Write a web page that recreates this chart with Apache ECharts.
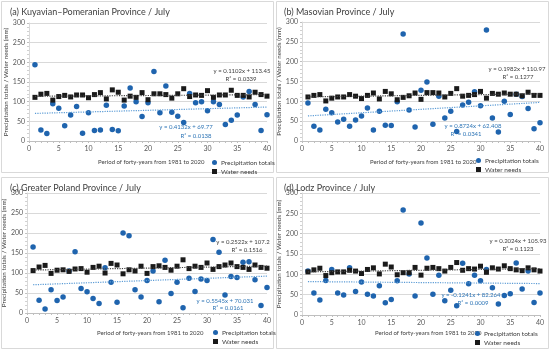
<!DOCTYPE html>
<html><head><meta charset="utf-8">
<script src="https://cdn.jsdelivr.net/npm/echarts@6/dist/echarts.min.js"></script>
<style>html,body{margin:0;padding:0;background:#fff}#c{width:550px;height:350px}</style>
</head><body><div id="c"></div>
<script>
const years = Array.from({length:40},(_,i)=>i+1);
const titles = ["(a) Kuyavian\u2013Pomeranian Province / July","(b) Masovian Province / July","(c) Greater Poland Province / July","(d) Lodz Province / July"];
const precipA = [194,28,19,95,83,39,66,88,20,72,27,28,91,29,26,89,135,100,62,97,177,72,140,73,63,47,121,97,100,77,100,93,42,53,66,112,126,93,27,67];
const waterA  = [111,119,121,104,113,116,112,117,117,110,118,123,107,130,124,104,114,111,123,105,120,120,118,109,120,133,113,117,116,128,111,117,117,129,116,116,112,124,118,114];
const precipB = [96,37,28,80,71,48,55,37,53,63,83,28,75,40,39,99,270,78,35,128,149,42,113,58,75,24,91,98,124,89,280,58,23,100,67,118,112,82,31,46];
const waterB  = [111,115,117,101,108,111,111,117,113,107,115,121,106,125,119,104,110,114,121,105,122,122,121,111,120,132,113,115,117,125,108,120,118,121,118,118,114,123,115,115];
const precipC = [165,32,10,58,31,40,105,153,61,53,36,24,113,77,27,200,193,58,40,81,105,28,132,49,77,13,87,54,85,81,184,152,45,91,89,127,128,83,19,64];
const waterC  = [106,115,119,99,107,108,104,110,111,102,114,117,100,124,120,98,108,105,117,99,116,118,114,107,117,133,111,117,114,125,109,116,120,125,116,114,109,120,114,112];
const precipD = [108,54,37,85,112,54,49,116,58,81,51,47,72,30,38,84,258,101,47,226,140,51,98,35,61,23,127,77,98,84,112,67,27,48,52,128,64,108,31,54];
const waterD  = [106,111,115,97,104,106,106,110,108,102,112,116,101,125,118,99,104,104,117,98,115,117,114,108,117,129,110,114,113,120,105,116,113,121,114,111,109,116,111,108];
// trend equations as printed on the chart
const waterSlope = [0.1102,0.1982,0.2522,0.2024];
const waterIntercept = [113.45,110.97,107.2,105.93];
const waterR2 = ["0.0339","0.1277","0.1516","0.1123"];
const precipSlope = [0.4132,0.8724,0.5545,-0.1241];
const precipIntercept = [69.77,62.408,70.031,82.264];
const precipR2 = ["0.0138","0.0341","0.0161","0.0009"];
const yTicks = [0,50,100,150,200,250,300];
const xTicks = [0,5,10,15,20,25,30,35,40];

const precip = [precipA,precipB,precipC,precipD];
const water = [waterA,waterB,waterC,waterD];

const FONT = 'Lato';
const grids = [
  {left:29, top:23, width:238, height:118},
  {left:302, top:22, width:238, height:119},
  {left:27, top:193, width:240, height:120},
  {left:302, top:193, width:238, height:122}
];
const titlePos = [[5,3],[279,3],[5,179],[279,179]];
const xNamePos = [[98,159],[370,159],[97,330],[375,330]];
const legendPos = [[212,159],[476,157],[213,329],[475,330]];
const eqW = [[242,71],[517,69],[243,242],[518,241]];
const r2W = [[241,79],[518,77],[247,250],[518,249]];
const eqP = [[186,127],[473,126],[225,301],[471,295]];
const r2P = [[196,136],[466,134],[228,308],[473,303]];
const boxes = [[1,1],[276,1],[1,177],[276,177]];

const fmt = (s,b)=> 'y = ' + s + 'x ' + (b<0?'- ':'+ ') + Math.abs(b);

const option = {
  animation:false,
  textStyle:{fontFamily:FONT},
  grid: grids,
  title: titles.map((t,i)=>({text:t,left:titlePos[i][0],top:titlePos[i][1],textStyle:{fontSize:9,fontWeight:'normal',color:'#404040',fontFamily:FONT}})),
  legend: legendPos.map((p,i)=>({data:[{name:'Precipitation totals',icon:'circle'},{name:'Water needs',icon:'rect'}],orient:'vertical',left:p[0],top:p[1],itemWidth:5,itemHeight:5,itemGap:2,padding:0,selectedMode:false,textStyle:{fontSize:6.5,color:'#404040',fontFamily:FONT,padding:[0,0,0,-1]}})),
  xAxis: grids.map((g,i)=>({type:'value',gridIndex:i,min:0,max:40,interval:5,
    axisLine:{show:true,lineStyle:{color:'#bfbfbf'}},
    axisTick:{show:true,length:2,lineStyle:{color:'#bfbfbf'}},
    minorTick:{show:true,splitNumber:5,length:2,lineStyle:{color:'#bfbfbf'}},
    splitLine:{show:false},
    axisLabel:{fontSize:7,color:'#595959',margin:4,fontFamily:FONT,customValues:xTicks}})),
  yAxis: grids.map((g,i)=>({type:'value',gridIndex:i,min:0,max:300,interval:50,
    name:'Precipitation totals / Water needs (mm)',nameLocation:'middle',nameGap:20,
    nameTextStyle:{fontSize:6.3,color:'#404040',fontFamily:FONT},
    axisLine:{show:true,lineStyle:{color:'#d9d9d9'}},
    axisTick:{show:true,length:2,lineStyle:{color:'#bfbfbf'}},
    minorTick:{show:true,splitNumber:5,length:2,lineStyle:{color:'#d0d0d0'}},
    splitLine:{show:true,lineStyle:{color:'#d9d9d9',width:1}},
    axisLabel:{fontSize:7,color:'#595959',margin:4,fontFamily:FONT}})),
  series: [],
  graphic: []
};

for (let i=0;i<4;i++){
  option.series.push({name:'Precipitation totals',type:'scatter',xAxisIndex:i,yAxisIndex:i,symbol:'circle',symbolSize:5.5,
    itemStyle:{color:'#1f64ae',opacity:1},data:years.map((x,k)=>[x,precip[i][k]]),z:3});
  option.series.push({name:'Water needs',type:'scatter',xAxisIndex:i,yAxisIndex:i,symbol:'rect',symbolSize:5,
    itemStyle:{color:'#1a1a1a',opacity:1},data:years.map((x,k)=>[x,water[i][k]]),z:4});
  option.series.push({type:'line',xAxisIndex:i,yAxisIndex:i,symbol:'none',silent:true,z:5,
    lineStyle:{color:'#404040',width:1.2,type:[1.2,1.2]},
    data:[1,40].map(x=>[x,waterSlope[i]*x+waterIntercept[i]])});
  option.series.push({type:'line',xAxisIndex:i,yAxisIndex:i,symbol:'none',silent:true,z:5,
    lineStyle:{color:'#5b9bd5',width:1.2,type:[1.2,1.2]},
    data:[1,40].map(x=>[x,precipSlope[i]*x+precipIntercept[i]])});
  option.graphic.push({type:'rect',shape:{x:boxes[i][0]+0.5,y:boxes[i][1]+0.5,width:272,height:171},style:{fill:'none',stroke:'#d9d9d9',lineWidth:1},z:-1,silent:true});
  option.graphic.push({type:'text',left:xNamePos[i][0],top:xNamePos[i][1],style:{text:'Period of forty-years from 1981 to 2020',fontSize:6,fill:'#404040',fontFamily:FONT}});
  const mk=(p,txt,col)=>({type:'text',x:p[0],y:p[1],style:{text:txt,fontSize:6,fill:col,fontFamily:FONT,align:'center',verticalAlign:'middle'},z:10});
  option.graphic.push(mk(eqW[i],fmt(waterSlope[i],waterIntercept[i]),'#404040'));
  option.graphic.push(mk(r2W[i],'R\u00b2 = '+waterR2[i],'#404040'));
  option.graphic.push(mk(eqP[i],fmt(precipSlope[i],precipIntercept[i]),'#2e75b6'));
  option.graphic.push(mk(r2P[i],'R\u00b2 = '+precipR2[i],'#2e75b6'));
}

const chart = echarts.init(document.getElementById('c'),null,{renderer:'canvas'});
chart.setOption(option);
</script></body></html>
